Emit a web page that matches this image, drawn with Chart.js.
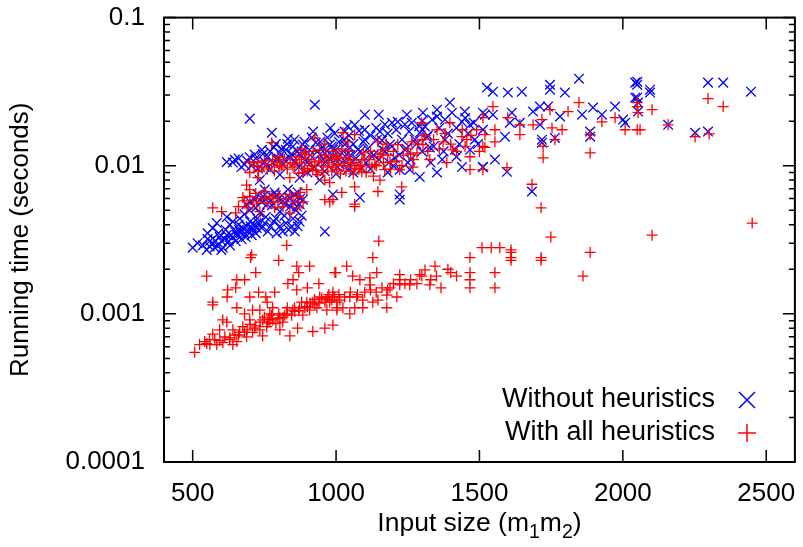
<!DOCTYPE html>
<html>
<head>
<meta charset="utf-8">
<script src="https://cdn.jsdelivr.net/npm/chart.js@4"></script>
<style>
  body { margin: 0; background: #fff; }
</style>
</head>
<body>
<canvas id="runtimeChart" width="803" height="547"></canvas>
<script>
// tick values of both axes
const xTicks = [500, 1000, 1500, 2000, 2500];
const yMajorTicks = [0.0001, 0.001, 0.01, 0.1];
const yTickLabels = ['0.0001', '0.001', '0.01', '0.1'];

// [input size, running time in seconds]
const withoutHeuristics = [
    [500, 0.0028], [517, 0.0030], [535, 0.0029], [549, 0.0027], [552, 0.0032], [559, 0.00285],
    [570, 0.0030], [580, 0.0031], [587, 0.0029], [594, 0.0033], [601, 0.0031], [612, 0.0032],
    [619, 0.0034], [626, 0.0031], [633, 0.0034], [640, 0.0033], [647, 0.0036], [654, 0.0034],
    [661, 0.0037], [668, 0.0035], [675, 0.0038], [681, 0.0035], [688, 0.0039], [695, 0.0036],
    [702, 0.0039], [709, 0.0037], [716, 0.0040], [723, 0.0038], [730, 0.0041], [741, 0.0038],
    [751, 0.0041], [762, 0.0036], [772, 0.0039], [783, 0.0042], [793, 0.0035], [804, 0.0039],
    [814, 0.0036], [825, 0.0041], [835, 0.0037], [846, 0.0039], [856, 0.0036], [866, 0.0039],
    [873, 0.0042], [961, 0.0036], [552, 0.0035], [570, 0.0038], [584, 0.0041], [619, 0.0045],
    [640, 0.0042], [664, 0.0044], [681, 0.0047], [577, 0.0028], [605, 0.0028], [650, 0.0031],
    [685, 0.0033], [706, 0.0034], [560, 0.0031], [590, 0.0035], [615, 0.0037], [630, 0.0040],
    [660, 0.0040], [700, 0.0042], [725, 0.0044], [755, 0.0045], [790, 0.0044], [820, 0.0046],
    [850, 0.0044], [880, 0.0046], [600, 0.0027], [630, 0.0029], [670, 0.0032], [720, 0.0035],
    [716, 0.0059], [727, 0.0064], [741, 0.0057], [751, 0.0069], [762, 0.0061], [776, 0.0054],
    [786, 0.0066], [797, 0.0059], [811, 0.0063], [821, 0.0055], [832, 0.0069], [839, 0.0061],
    [849, 0.0057], [859, 0.0050], [866, 0.0066], [873, 0.0055], [884, 0.0059], [699, 0.0050],
    [688, 0.0055], [734, 0.0048], [804, 0.0049], [863, 0.0053], [720, 0.0052], [745, 0.0062],
    [770, 0.0058], [790, 0.0063], [815, 0.0058], [840, 0.0053], [855, 0.0064], [875, 0.0060],
    [700, 0.0057], [760, 0.0055],
    [619, 0.0106], [647, 0.0110], [699, 0.0208], [776, 0.0167], [832, 0.0152], [926, 0.0258],
    [681, 0.0102], [699, 0.0114], [716, 0.0119], [727, 0.0096], [741, 0.0128], [751, 0.0106],
    [762, 0.0115], [769, 0.0094], [783, 0.0133], [793, 0.0110], [804, 0.0122], [814, 0.0102],
    [825, 0.0128], [839, 0.0113], [849, 0.0135], [859, 0.0106], [873, 0.0119], [884, 0.0139],
    [894, 0.0110], [908, 0.0128], [919, 0.0096], [929, 0.0143], [943, 0.0119], [954, 0.0133],
    [964, 0.0106], [978, 0.0139], [989, 0.0115], [999, 0.0128], [1013, 0.0102], [1027, 0.0150],
    [1037, 0.0119], [1048, 0.0133], [804, 0.0087], [873, 0.0083], [943, 0.0080], [734, 0.0080],
    [640, 0.0105], [660, 0.0112], [670, 0.0098], [690, 0.0108], [705, 0.0100], [720, 0.0112],
    [735, 0.0098], [745, 0.0120], [758, 0.0102], [770, 0.0125], [780, 0.0105], [790, 0.0140],
    [800, 0.0112], [810, 0.0130], [820, 0.0110], [830, 0.0140], [845, 0.0120], [855, 0.0150],
    [865, 0.0125], [870, 0.0098],
    [880, 0.0125], [890, 0.0145], [900, 0.0105], [910, 0.0118], [915, 0.0155], [925, 0.0098],
    [935, 0.0125], [945, 0.0145], [950, 0.0108], [960, 0.0122], [970, 0.0155], [975, 0.0112],
    [985, 0.0135], [995, 0.0165], [1005, 0.0098], [1010, 0.0145], [1020, 0.0122], [1035, 0.0105],
    [1045, 0.0160], [1050, 0.0118], [1060, 0.0140], [1070, 0.0112], [1080, 0.0172], [1085, 0.0125],
    [1095, 0.0145], [1105, 0.0105], [1110, 0.0130], [1120, 0.0160], [1130, 0.0118], [1140, 0.0180],
    [1150, 0.0110], [1160, 0.0148], [1170, 0.0125], [1180, 0.0165], [1185, 0.0105], [1195, 0.0135],
    [1210, 0.0175], [1220, 0.0118], [1230, 0.0150], [1245, 0.0130], [1255, 0.0170], [1260, 0.0110],
    [1280, 0.0140], [1290, 0.0185], [1300, 0.0125], [1320, 0.0160], [1335, 0.0205], [1340, 0.0135],
    [1360, 0.0180], [1375, 0.0125], [1390, 0.0165], [1420, 0.0180], [1430, 0.0140], [1450, 0.0210],
    [1460, 0.0165], [1480, 0.0195], [1495, 0.0140],
    [900, 0.0090], [960, 0.0092], [1000, 0.0088], [1060, 0.0090], [1120, 0.0095], [1180, 0.0090],
    [920, 0.0170], [980, 0.0180], [1040, 0.0185], [1100, 0.0175], [1170, 0.0190], [1240, 0.0190],
    [1300, 0.0200], [1380, 0.0205], [1420, 0.0115], [1370, 0.0110], [1330, 0.0105], [1250, 0.0105],
    [1200, 0.0100],
    [1100, 0.0221], [1149, 0.0221], [1247, 0.0221], [1303, 0.0228], [1352, 0.0239], [1397, 0.0267],
    [1404, 0.0228], [1449, 0.0232], [1519, 0.0221], [1526, 0.0337], [1065, 0.0189], [1030, 0.0170],
    [1153, 0.0170], [1195, 0.0195], [1215, 0.0198], [1264, 0.0195], [1310, 0.0184], [1352, 0.0215],
    [1439, 0.0198], [1467, 0.0189], [1512, 0.0175], [989, 0.0128], [1006, 0.0113], [1030, 0.0139],
    [1055, 0.0106], [1076, 0.0128], [1090, 0.0096], [996, 0.0102], [1041, 0.0094], [1142, 0.0150],
    [1163, 0.0128], [1292, 0.0167], [1317, 0.0156], [1352, 0.0090], [1292, 0.0084], [1222, 0.0064],
    [1222, 0.0059], [1083, 0.0061], [989, 0.0064], [1439, 0.0098], [1512, 0.0098], [1467, 0.0128],
    [1222, 0.0094], [1257, 0.0094], [1188, 0.0139], [1205, 0.0113], [1240, 0.0128], [1275, 0.0150],
    [1327, 0.0133], [1380, 0.0150], [1414, 0.0128], [1484, 0.0150], [1100, 0.0150], [1118, 0.0119],
    [1547, 0.0316], [1599, 0.0312], [1648, 0.0316], [1746, 0.0352], [1746, 0.0326], [1798, 0.0312],
    [1847, 0.0387], [2043, 0.0364], [2043, 0.0288], [1512, 0.0228], [1547, 0.0221], [1613, 0.0228],
    [1687, 0.0232], [1711, 0.0251], [1739, 0.0251], [1781, 0.0215], [1858, 0.0221], [1896, 0.0247],
    [1927, 0.0221], [1973, 0.0251], [2001, 0.0205], [1606, 0.0195], [1641, 0.0195], [1711, 0.0189],
    [1589, 0.0157], [1718, 0.0150], [1763, 0.0154], [1886, 0.0170], [1886, 0.0157], [1512, 0.0098],
    [1554, 0.0110], [1596, 0.0091], [1683, 0.0067], [1718, 0.0143], [2008, 0.0195],
    [2050, 0.0369], [2050, 0.0352], [2095, 0.0326], [2095, 0.0312], [2050, 0.0288], [2053, 0.0267],
    [2053, 0.0232], [2158, 0.0189], [2252, 0.0167], [2297, 0.0170], [2297, 0.0364], [2350, 0.0364],
    [2447, 0.0316]
];

const withAllHeuristics = [
    [507, 0.00055], [549, 0.00063], [549, 0.0018], [570, 0.0012], [570, 0.00115], [622, 0.00145],
    [654, 0.0017], [681, 0.0017], [702, 0.0024], [730, 0.0014], [699, 0.0013], [800, 0.0023],
    [828, 0.0029], [786, 0.0014], [755, 0.0013], [863, 0.0021], [870, 0.0019], [908, 0.0021],
    [996, 0.0019], [832, 0.0016], [863, 0.00145], [654, 0.0011], [605, 0.00091], [619, 0.00088],
    [570, 0.00073], [584, 0.00062], [605, 0.00064], [629, 0.00067], [654, 0.00065], [688, 0.00070],
    [709, 0.00075], [734, 0.00078], [762, 0.00087], [779, 0.00091], [804, 0.00094], [828, 0.0010],
    [849, 0.00106], [873, 0.0011], [898, 0.0012], [919, 0.0012], [943, 0.0013], [971, 0.0013],
    [989, 0.0014], [1003, 0.0012], [839, 0.00071], [866, 0.00080], [919, 0.00076], [961, 0.00080],
    [989, 0.00084], [699, 0.00091], [675, 0.00082], [664, 0.00075], [744, 0.00091], [769, 0.0010],
    [709, 0.00106], [681, 0.0010], [640, 0.00078], [594, 0.00078], [559, 0.00067], [640, 0.00062],
    [744, 0.00071], [804, 0.00078], [758, 0.00082], [814, 0.00088], [734, 0.00106], [779, 0.0011],
    [884, 0.00098], [908, 0.00106], [933, 0.0011], [968, 0.00106], [978, 0.0012], [1003, 0.0011],
    [524, 0.00062], [542, 0.00065], [577, 0.00067], [612, 0.0007], [647, 0.00072], [681, 0.00075],
    [716, 0.0008], [769, 0.00088], [797, 0.00093], [821, 0.00098], [856, 0.00104], [891, 0.0011],
    [926, 0.00115], [961, 0.0012],
    [560, 0.00062], [595, 0.00066], [630, 0.00069], [660, 0.00072], [690, 0.00078], [700, 0.00085],
    [720, 0.00083], [735, 0.00088], [750, 0.00095], [765, 0.00092], [775, 0.00098], [790, 0.00086],
    [800, 0.0010], [815, 0.00095], [830, 0.0011], [845, 0.00098], [855, 0.0011], [870, 0.00105],
    [880, 0.0012], [900, 0.00112], [910, 0.00118], [925, 0.00125], [940, 0.00118], [950, 0.00128],
    [965, 0.00125], [975, 0.00135], [985, 0.00124], [995, 0.0013], [1010, 0.00135], [1030, 0.0013],
    [1050, 0.0014], [1075, 0.00135], [1100, 0.0014], [1120, 0.00145], [1140, 0.0014], [1160, 0.0015],
    [1180, 0.00145], [1200, 0.0016], [1240, 0.0016], [1260, 0.0017], [1330, 0.0017], [1350, 0.0018],
    [1400, 0.0019], [1420, 0.0018], [620, 0.0013], [650, 0.0015], [720, 0.0019], [760, 0.0012],
    [850, 0.0017], [900, 0.0015], [940, 0.0016],
    [1149, 0.0031], [1128, 0.0024], [1037, 0.0021], [999, 0.0019], [1058, 0.0018], [1083, 0.0017],
    [1118, 0.00175], [1142, 0.0019], [1118, 0.00157], [1222, 0.00184], [1222, 0.0017], [1222, 0.00157],
    [1188, 0.0015], [1177, 0.00134], [1146, 0.00124], [1177, 0.0011], [1212, 0.0013], [1257, 0.00157],
    [1282, 0.0016], [1292, 0.00184], [1310, 0.00198], [1299, 0.0018], [1327, 0.00157], [1345, 0.0021],
    [1366, 0.0015], [1390, 0.0020], [1467, 0.0024], [1467, 0.0019], [1467, 0.0017], [1467, 0.0015],
    [1509, 0.0028], [989, 0.0013], [1013, 0.00124], [1048, 0.0013], [1072, 0.0013], [1093, 0.00124],
    [1065, 0.0011], [1024, 0.0011], [1093, 0.0011], [1128, 0.0012], [1048, 0.0010], [1003, 0.00106],
    [978, 0.0057], [1065, 0.0053],
    [1683, 0.0075], [1715, 0.0052], [1749, 0.0033], [1541, 0.0028], [1571, 0.0028], [1610, 0.0027],
    [1610, 0.0026], [1610, 0.0024], [1610, 0.0023], [1715, 0.0024], [1715, 0.0023], [1886, 0.0026],
    [1554, 0.0019], [1554, 0.0015], [1861, 0.0018], [2102, 0.0034], [2451, 0.0041],
    [2050, 0.0267], [2050, 0.0251], [2053, 0.0228], [2102, 0.0239], [2060, 0.0175], [2158, 0.0189],
    [2252, 0.0157], [2301, 0.0164], [2297, 0.0284], [2350, 0.0251],
    [1547, 0.0251], [1512, 0.0211], [1599, 0.0211], [1519, 0.0162], [1519, 0.0133], [1554, 0.0145],
    [1554, 0.0175], [1641, 0.0189], [1641, 0.0162], [1687, 0.0189], [1718, 0.0205], [1746, 0.0239],
    [1753, 0.0180], [1788, 0.0175], [1722, 0.0135], [1722, 0.0113], [1763, 0.0150], [1809, 0.0232],
    [1847, 0.0267], [1886, 0.0162], [1927, 0.0198], [1973, 0.0211], [2008, 0.0175], [2050, 0.0175],
    [1886, 0.0122], [1596, 0.0097], [1512, 0.0094],
    [1024, 0.0167], [1065, 0.0162], [1003, 0.0115], [989, 0.0098], [1041, 0.0105], [1090, 0.0110],
    [1090, 0.0091], [1125, 0.0098], [1146, 0.0145], [1146, 0.0115], [1163, 0.0128], [1170, 0.0094],
    [1153, 0.0080], [1188, 0.0106], [1215, 0.0139], [1222, 0.0094], [1264, 0.0145], [1282, 0.0122],
    [1268, 0.0098], [1299, 0.0195], [1303, 0.0139], [1327, 0.0110], [1352, 0.0175], [1373, 0.0145],
    [1397, 0.0195], [1407, 0.0128], [1386, 0.0105], [1439, 0.0157], [1456, 0.0150], [1467, 0.0115],
    [1467, 0.0094], [1512, 0.0135], [1065, 0.0072], [1065, 0.0055], [1146, 0.0067], [1229, 0.0072],
    [978, 0.0077], [1020, 0.0066],
    [850, 0.0098], [860, 0.0115], [870, 0.0089], [880, 0.0105], [890, 0.0122], [900, 0.0092],
    [905, 0.0110], [915, 0.0100], [920, 0.0125], [930, 0.0093], [940, 0.0108], [950, 0.0100],
    [955, 0.0090], [965, 0.0118], [975, 0.0105], [985, 0.0092], [990, 0.0125], [1000, 0.0102],
    [1010, 0.0112], [1015, 0.0088], [1025, 0.0100], [1035, 0.0092], [1045, 0.0125], [1055, 0.0100],
    [1060, 0.0088], [1070, 0.0105], [1080, 0.0095], [1095, 0.0122], [1105, 0.0090], [1115, 0.0110],
    [1130, 0.0085], [1140, 0.0100], [1155, 0.0120], [1165, 0.0105], [1175, 0.0140], [1190, 0.0095],
    [1200, 0.0125], [1210, 0.0108], [1235, 0.0118], [1250, 0.0130], [1270, 0.0110], [1285, 0.0140],
    [1310, 0.0160], [1320, 0.0125], [1340, 0.0150], [1360, 0.0130], [1380, 0.0165], [1400, 0.0140],
    [1420, 0.0125], [1440, 0.0175], [1450, 0.0135], [1470, 0.0160], [1490, 0.0175], [1500, 0.0125],
    [1000, 0.0118], [1020, 0.0130], [1050, 0.0110], [1085, 0.0100], [1120, 0.0125], [1180, 0.0118],
    [1230, 0.0100], [1260, 0.0120], [1300, 0.0150], [880, 0.0130], [960, 0.0140], [1040, 0.0145],
    [740, 0.0098], [750, 0.0108], [760, 0.0095], [775, 0.0102], [785, 0.0092], [795, 0.0105],
    [810, 0.0100], [820, 0.0110], [830, 0.0095], [840, 0.0105], [730, 0.0092], [715, 0.0100],
    [660, 0.0053], [680, 0.0058], [690, 0.0052], [710, 0.0055], [740, 0.0060], [760, 0.0056],
    [780, 0.0060], [800, 0.0064], [815, 0.0053], [825, 0.0060], [850, 0.0057], [875, 0.0066],
    [885, 0.0057], [650, 0.0048], [720, 0.0065],
    [776, 0.0143], [926, 0.0154], [699, 0.0106], [727, 0.0106], [699, 0.0090], [727, 0.0083],
    [688, 0.0074], [699, 0.0069], [675, 0.0061], [699, 0.0062], [723, 0.0057], [734, 0.0049],
    [751, 0.0067], [769, 0.0062], [797, 0.0057], [786, 0.0052], [839, 0.0064], [839, 0.0048],
    [866, 0.0062], [866, 0.0052], [898, 0.0069], [804, 0.0098], [839, 0.0083], [894, 0.0119],
    [919, 0.0094], [961, 0.0059], [989, 0.0059], [961, 0.0080], [971, 0.0098], [989, 0.0110],
    [570, 0.0052], [601, 0.0049], [706, 0.0025], [873, 0.0110], [884, 0.0090], [943, 0.0128],
    [1003, 0.0094], [779, 0.0110], [804, 0.0115], [856, 0.0102], [891, 0.0096], [926, 0.0106],
    [961, 0.0113], [936, 0.0087], [1034, 0.0113], [1065, 0.0096], [1100, 0.0110], [1135, 0.0102]
];

const FAMILY = '"Liberation Sans", Arial, sans-serif';
const FONT = { family: FAMILY, size: 26 };

// gnuplot style frame: box plus inward ticks on all four sides
const framePlugin = {
    id: 'frame',
    afterDatasetsDraw(chart) {
        const { ctx, chartArea: a, scales } = chart;
        ctx.save();
        ctx.strokeStyle = '#000';
        ctx.lineWidth = 2;
        ctx.strokeRect(a.left, a.top, a.right - a.left, a.bottom - a.top);
        ctx.lineWidth = 1.5;
        ctx.beginPath();
        scales.x.ticks.forEach(t => {
            const px = scales.x.getPixelForValue(t.value);
            ctx.moveTo(px, a.bottom); ctx.lineTo(px, a.bottom - 12);
            ctx.moveTo(px, a.top); ctx.lineTo(px, a.top + 12);
        });
        scales.y.ticks.forEach(t => {
            const py = scales.y.getPixelForValue(t.value);
            const len = yMajorTicks.includes(t.value) ? 12 : 6;
            ctx.moveTo(a.left, py); ctx.lineTo(a.left + len, py);
            ctx.moveTo(a.right, py); ctx.lineTo(a.right - len, py);
        });
        ctx.stroke();
        ctx.restore();
    }
};

// key inside the plot (bottom right) and x title with real subscripts
const keyPlugin = {
    id: 'key',
    afterDraw(chart) {
        const { ctx, chartArea: a } = chart;
        const rows = [
            { ds: chart.data.datasets[1], y: 400 },
            { ds: chart.data.datasets[0], y: 433 }
        ];
        ctx.save();
        ctx.font = '27px ' + FAMILY;
        ctx.textAlign = 'right';
        ctx.textBaseline = 'middle';
        ctx.fillStyle = '#000';
        rows.forEach(r => {
            ctx.fillText(r.ds.label, 715, r.y);
            ctx.strokeStyle = r.ds.borderColor;
            ctx.lineWidth = 1.5;
            ctx.beginPath();
            if (r.ds.pointStyle === 'crossRot') {
                ctx.moveTo(739, r.y - 8); ctx.lineTo(755, r.y + 8);
                ctx.moveTo(739, r.y + 8); ctx.lineTo(755, r.y - 8);
            } else {
                ctx.moveTo(738, r.y); ctx.lineTo(756, r.y);
                ctx.moveTo(747, r.y - 9); ctx.lineTo(747, r.y + 9);
            }
            ctx.stroke();
        });

        // "Input size (m1m2)" with subscripts
        const parts = [
            { t: 'Input size (m', sub: false }, { t: '1', sub: true },
            { t: 'm', sub: false }, { t: '2', sub: true }, { t: ')', sub: false }
        ];
        const big = '26.5px ' + FAMILY, small = '19.5px ' + FAMILY;
        let total = 0;
        parts.forEach(p => { ctx.font = p.sub ? small : big; p.w = ctx.measureText(p.t).width; total += p.w; });
        let x = (a.left + a.right) / 2 - total / 2;
        const base = 531;
        ctx.textAlign = 'left';
        ctx.textBaseline = 'alphabetic';
        parts.forEach(p => {
            ctx.font = p.sub ? small : big;
            ctx.fillText(p.t, x, p.sub ? base + 7 : base);
            x += p.w;
        });
        ctx.restore();
    }
};

const ctx = document.getElementById('runtimeChart').getContext('2d');

new Chart(ctx, {
    type: 'scatter',
    data: {
        datasets: [
            {
                label: 'With all heuristics',
                data: withAllHeuristics.map(p => ({ x: p[0], y: p[1] })),
                pointStyle: 'cross',
                pointRadius: 5.5,
                borderColor: '#ff0000',
                backgroundColor: '#ff0000',
                pointBorderWidth: 1.3,
                order: 0
            },
            {
                label: 'Without heuristics',
                data: withoutHeuristics.map(p => ({ x: p[0], y: p[1] })),
                pointStyle: 'crossRot',
                pointRadius: 6.8,
                borderColor: '#0000ff',
                backgroundColor: '#0000ff',
                pointBorderWidth: 1.3,
                order: 1
            }
        ]
    },
    options: {
        responsive: false,
        animation: false,
        events: [],
        layout: { padding: { top: 0, right: 6, left: 0, bottom: 0 } },
        plugins: {
            legend: { display: false },
            tooltip: { enabled: false }
        },
        scales: {
            x: {
                type: 'linear',
                min: 400,
                max: 2600,
                afterBuildTicks: s => { s.ticks = xTicks.map(v => ({ value: v })); },
                afterFit: s => { s.height = 85; },
                grid: { display: false, drawTicks: true, tickLength: 14 },
                border: { display: false },
                ticks: {
                    autoSkip: false,
                    maxRotation: 0,
                    padding: 2,
                    color: '#000',
                    font: FONT,
                    callback: v => String(v)
                }
            },
            y: {
                type: 'logarithmic',
                min: 0.0001,
                max: 0.1,
                afterBuildTicks: s => {
                    const ticks = [];
                    yMajorTicks.forEach((m, i) => {
                        ticks.push({ value: m });
                        if (i < yMajorTicks.length - 1) {
                            for (let k = 2; k <= 9; k++) ticks.push({ value: +(m * k).toPrecision(3) });
                        }
                    });
                    s.ticks = ticks;
                },
                afterFit: s => { s.width = 164; },
                grid: { display: false, drawTicks: true, tickLength: 17 },
                border: { display: false },
                ticks: {
                    autoSkip: false,
                    padding: 2,
                    color: '#000',
                    font: FONT,
                    callback: v => {
                        const i = yMajorTicks.indexOf(v);
                        return i >= 0 ? yTickLabels[i] : '';
                    }
                },
                title: {
                    display: true,
                    text: 'Running time (seconds)',
                    color: '#000',
                    font: FONT,
                    padding: { top: 5, bottom: 0 }
                }
            }
        }
    },
    plugins: [framePlugin, keyPlugin]
});
</script>
</body>
</html>
